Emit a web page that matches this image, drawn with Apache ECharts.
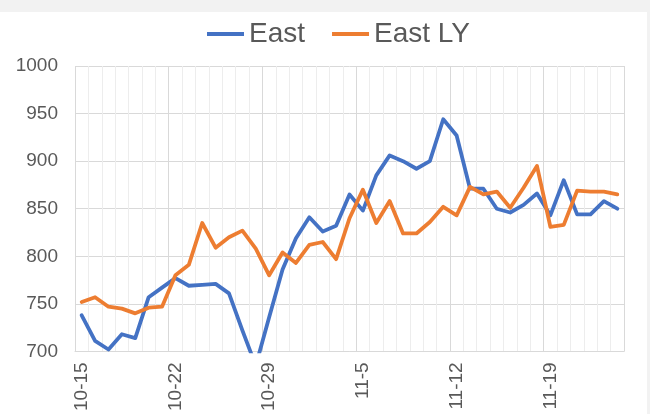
<!DOCTYPE html>
<html>
<head>
<meta charset="utf-8">
<script src="https://cdn.jsdelivr.net/npm/echarts@6/dist/echarts.min.js"></script>
<style>
  html, body { margin: 0; padding: 0; background: #f2f2f2; }
  #chart { position: absolute; left: 0; top: 12px; width: 647px; height: 402px; background: #fff; }
</style>
</head>
<body>
<div id="chart"></div>
<script>
// days 10-15 .. 11-24
const days = [
  '10-15', '10-16', '10-17', '10-18', '10-19', '10-20', '10-21',
  '10-22', '10-23', '10-24', '10-25', '10-26', '10-27', '10-28',
  '10-29', '10-30', '10-31', '11-1', '11-2', '11-3', '11-4',
  '11-5', '11-6', '11-7', '11-8', '11-9', '11-10', '11-11',
  '11-12', '11-13', '11-14', '11-15', '11-16', '11-17', '11-18',
  '11-19', '11-20', '11-21', '11-22', '11-23', '11-24'
]
const east = [
  738, 711, 702, 718, 714, 757, 767, 777, 769, 770, 771, 761, 722, 685,
  736, 786, 819, 841, 826, 832, 865, 848, 885, 906, 900, 892, 900, 944,
  927, 871, 871, 850, 846, 854, 866, 843, 880, 844, 844, 858, 850
]
const eastLY = [
  752, 757, 747, 745, 740, 746, 747, 780, 791, 835, 809, 820, 827, 808,
  780, 804, 793, 812, 815, 797, 840, 870, 835, 858, 824, 824, 836, 852,
  843, 873, 865, 868, 851, 872, 895, 831, 833, 869, 868, 868, 865
]
const yTicks = { min: 700, max: 1000, step: 50 }

const txt = '#595959'
const grid = '#d9d9d9'
const fnt = "'Liberation Sans', Arial, sans-serif"

const chart = echarts.init(document.getElementById('chart'))
chart.setOption({
  animation: false,
  textStyle: { fontFamily: fnt },
  legend: {
    top: 3,
    left: 202,
    itemWidth: 37,
    itemHeight: 4,
    itemGap: 27,
    icon: 'rect',
    textStyle: { color: txt, fontSize: 28 },
    data: ['East', 'East LY']
  },
  grid: { left: 75, right: 23, top: 54, bottom: 60 },
  xAxis: [
    {
      type: 'category',
      data: days,
      boundaryGap: true,
      axisLine: { lineStyle: { color: grid, width: 1 } },
      axisTick: { interval: (i) => i % 7 === 0, length: 5, lineStyle: { color: grid } },
      axisLabel: {
        interval: 6,
        rotate: 90,
        color: txt,
        fontSize: 19,
        margin: 11
      },
      splitLine: { show: true, interval: 0, lineStyle: { color: '#ededed', width: 1 } }
    },
    {
      type: 'category',
      data: days,
      boundaryGap: true,
      position: 'bottom',
      axisLine: { show: false },
      axisTick: { show: false },
      axisLabel: { show: false },
      splitLine: { show: true, interval: (i) => i % 7 === 0, lineStyle: { color: grid, width: 1 } }
    }
  ],
  yAxis: {
    type: 'value',
    min: yTicks.min,
    max: yTicks.max,
    interval: yTicks.step,
    axisLine: { show: false },
    axisTick: { show: false },
    axisLabel: { color: txt, fontSize: 19, margin: 17, formatter: (v) => String(v) },
    splitLine: { lineStyle: { color: grid, width: 1 } }
  },
  series: [
    {
      name: 'East',
      type: 'line',
      data: east,
      symbol: 'none',
      color: '#4472c4',
      lineStyle: { width: 3.8, join: 'round', cap: 'round' },
      z: 3
    },
    {
      name: 'East LY',
      type: 'line',
      data: eastLY,
      symbol: 'none',
      color: '#ed7d31',
      lineStyle: { width: 3.8, join: 'round', cap: 'round' },
      z: 4
    }
  ]
})
</script>
</body>
</html>
